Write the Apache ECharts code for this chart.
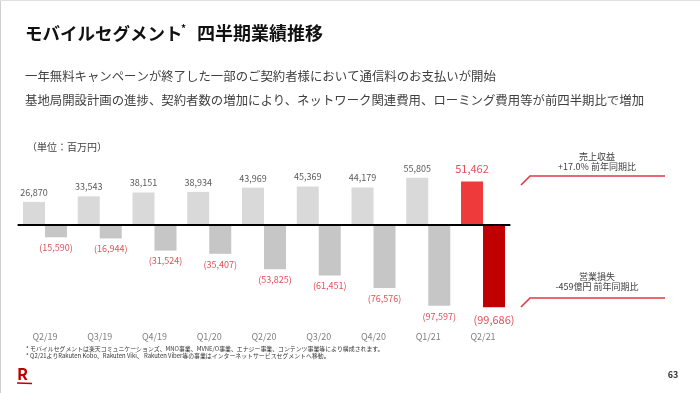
<!DOCTYPE html>
<html>
<head>
<meta charset="utf-8">
<script src="https://cdn.jsdelivr.net/npm/echarts@6/dist/echarts.min.js"></script>
<style>
html,body{margin:0;padding:0;background:#fff;}
#chart{width:700px;height:393px;}
</style>
</head>
<body>
<div id="chart"></div>
<script>
// ---- data ----
const categories = ['Q2/19','Q3/19','Q4/19','Q1/20','Q2/20','Q3/20','Q4/20','Q1/21','Q2/21'];
const revenue = [26870, 33543, 38151, 38934, 43969, 45369, 44179, 55805, 51462];
const operatingLoss = [-15590, -16944, -31524, -35407, -53825, -61451, -76576, -97597, -99686];
const titleMain = 'モバイルセグメント';
const titleSub = '四半期業績推移';
const bullet1 = '一年無料キャンペーンが終了した一部のご契約者様において通信料のお支払いが開始';
const bullet2 = '基地局開設計画の進捗、契約者数の増加により、ネットワーク関連費用、ローミング費用等が前四半期比で増加';
const unitLabel = '（単位：百万円）';
const revNote = ['売上収益', '+17.0% 前年同期比'];
const lossNote = ['営業損失', '-459億円 前年同期比'];
const footnotes = [
  '* モバイルセグメントは楽天コミュニケーションズ、MNO事業、MVNE/O事業、エナジー事業、コンテンツ事業等により構成されます。',
  '* Q2/21よりRakuten Kobo、Rakuten Viki、 Rakuten Viber等の事業はインターネットサービスセグメントへ移動。'
];
const pageNo = '63';

// ---- styling ----
const FONT = '"Noto Sans CJK JP", "Noto Sans", sans-serif';
const fmt = v => Math.abs(v).toLocaleString('en-US');
const last = categories.length - 1;

const revData = revenue.map((v, i) => i === last ? {
  value: v,
  itemStyle: { color: '#ef3a3c' },
  label: { fontSize: 11, color: '#e0505a', distance: 7 }
} : v);
const lossData = operatingLoss.map((v, i) => i === last ? {
  value: v,
  itemStyle: { color: '#c00000' },
  label: { fontSize: 11, color: '#e0505a', distance: 7 }
} : v);

function txt(text, x, y, size, color, opts) {
  opts = opts || {};
  return {
    type: 'text', silent: true,
    style: {
      text: text, x: x, y: y,
      font: (opts.weight || 'normal') + ' ' + size + 'px ' + FONT,
      fill: color,
      textAlign: opts.align || 'left', align: opts.align || 'left',
      textVerticalAlign: 'middle', verticalAlign: 'middle'
    }
  };
}
function leader(yEnd, yStart) {
  return {
    type: 'polyline', silent: true,
    shape: { points: [[521, yStart], [530, yEnd], [665, yEnd]] },
    style: { stroke: '#e03a45', lineWidth: 1.6, fill: null }
  };
}

const chart = echarts.init(document.getElementById('chart'), null, { renderer: 'canvas' });
chart.setOption({
  backgroundColor: '#ffffff',
  animation: false,
  textStyle: { fontFamily: FONT },
  grid: { left: 17.6, right: 189.6, top: 174.3, bottom: 68.7, containLabel: false },
  xAxis: {
    type: 'category',
    data: categories,
    axisLine: { show: false, onZero: false },
    axisTick: { show: false },
    axisLabel: { color: '#808080', fontSize: 9, margin: 8, fontFamily: FONT }
  },
  yAxis: {
    type: 'value', min: -120000, max: 60000, show: false,
    splitLine: { show: false }
  },
  series: [
    {
      name: '売上収益', type: 'bar', data: revData,
      barWidth: 22, barGap: '0%',
      itemStyle: { color: '#d9d9d9' },
      label: {
        show: true, position: 'top', distance: 5,
        fontSize: 9, color: '#595959', fontFamily: FONT,
        formatter: p => fmt(p.value)
      },
      markLine: {
        silent: true, symbol: 'none',
        label: { show: false },
        lineStyle: { color: '#000000', width: 2, type: 'solid' },
        data: [{ yAxis: 0 }]
      },
      z: 2
    },
    {
      name: '営業損失', type: 'bar', data: lossData,
      barWidth: 22, barGap: '0%',
      itemStyle: { color: '#c6c6c6' },
      label: {
        show: true, position: 'bottom', distance: 6,
        fontSize: 9, color: '#e0505a', fontFamily: FONT,
        formatter: p => '(' + fmt(p.value) + ')'
      },
      z: 2
    }
  ],
  graphic: [
    { type: 'rect', silent: true, shape: { x: 0, y: 0, width: 1, height: 393 }, style: { fill: '#d0d0d0' } },
    { type: 'rect', silent: true, shape: { x: 0, y: 0, width: 700, height: 1 }, style: { fill: '#e0e0e0' } },
    txt(titleMain, 25, 33, 17.5, '#111111', { weight: 'bold' }),
    txt('*', 181, 28, 10, '#111111', { weight: 'bold' }),
    txt(titleSub, 197, 33, 18, '#111111', { weight: 'bold' }),
    txt(bullet1, 25, 76, 12.4, '#404040'),
    txt(bullet2, 25, 100, 12.4, '#404040'),
    txt(unitLabel, 27, 147, 10, '#404040'),
    txt(revNote[0], 597, 157, 9, '#404040', { align: 'center' }),
    txt(revNote[1], 597, 167, 9, '#404040', { align: 'center' }),
    leader(176, 185),
    txt(lossNote[0], 597, 277, 9, '#404040', { align: 'center' }),
    txt(lossNote[1], 597, 287, 9, '#404040', { align: 'center' }),
    leader(298, 307),
    txt(footnotes[0], 26, 348.5, 5.9, '#333333'),
    txt(footnotes[1], 26, 356, 5.9, '#333333'),
    txt('R', 17, 374, 16, '#bf0000', { weight: 'bold' }),
    { type: 'line', silent: true, shape: { x1: 17, y1: 383, x2: 32, y2: 383.5 }, style: { stroke: '#bf0000', lineWidth: 1.5 } },
    txt(pageNo, 673, 375, 9, '#333333', { weight: 'bold', align: 'center' })
  ]
});
</script>
</body>
</html>
